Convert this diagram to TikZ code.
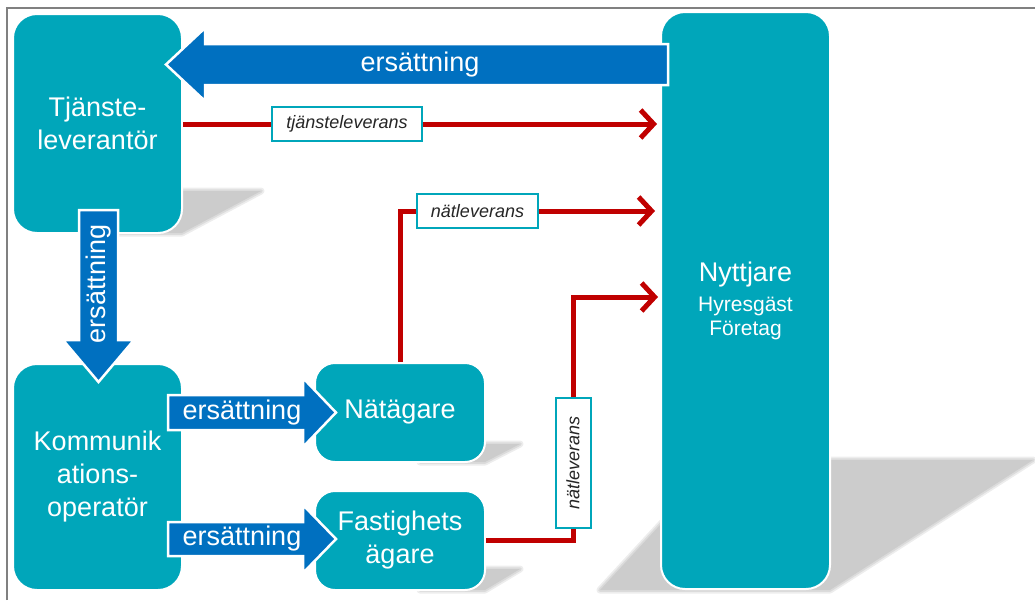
\documentclass[tikz,border=0pt]{standalone}
\usepackage{fontspec}
\setmainfont{Liberation Sans}
\usetikzlibrary{arrows.meta,calc,fadings}
\definecolor{teal1}{RGB}{0,166,186}
\definecolor{blue1}{RGB}{0,112,192}
\definecolor{red1}{RGB}{192,0,0}
\definecolor{frame1}{RGB}{128,128,128}
\definecolor{shad}{RGB}{204,204,204}
\tikzfading[name=band, top color=transparent!100, middle color=transparent!0, bottom color=transparent!100]
\newcommand\softshadow[1]{%
  \draw[shad!35!white, line width=7pt, line join=round] #1;
  \draw[shad!70!white, line width=3.5pt, line join=round] #1;
  \fill[shad] #1;}
\begin{document}
\begin{tikzpicture}[x=1pt,y=-1pt,
  box/.style={draw=white, line width=2pt, fill=teal1, rounded corners=24pt, inner sep=0pt,
    text=white, align=center, font=\fontsize{27}{33}\selectfont},
  smallbox/.style={box, rounded corners=20pt, minimum width=170pt, minimum height=99pt},
  barrow/.style={fill=blue1, draw=white, line width=2.5pt, line join=miter},
  atext/.style={text=white, font=\fontsize{27}{33}\selectfont, inner sep=0pt},
  rline/.style={draw=red1, line width=5pt, -{Straight Barb[length=13pt,width=28pt]}},
  lbl/.style={draw=teal1, line width=2pt, fill=white, font=\fontsize{18}{21}\selectfont\itshape,
    text=black!85, inner sep=0pt},
  sband/.style={fill=black, path fading=band}
]
\useasboundingbox (0,0) rectangle (1035,600);

% soft shadows
\softshadow{(600,590) -- (830,590) -- (1033,460) -- (720,460) -- cycle}
\softshadow{(110,233) -- (182,233) -- (261,191) -- (170,191) -- cycle}
\softshadow{(420,462) -- (485,462) -- (520,444) -- (460,444) -- cycle}
\softshadow{(420,590) -- (485,590) -- (520,569) -- (460,569) -- cycle}

% boxes
\node[box, minimum width=169pt, minimum height=219pt] (tj) at (97.5,123.5) {Tjänste-\\leverantör};
\node[box, minimum width=169pt, minimum height=226pt] (ko) at (97.5,477) {Kommunik\\ations-\\operatör};
\node[smallbox] (na) at (400,412.5) {Nätägare};
\node[smallbox] (fa) at (400,540.5) {Fastighets\\ägare};
\node[box, minimum width=169pt, minimum height=577pt] (ny) at (745.5,300.5)
  {Nyttjare\\[-3pt]{\fontsize{21}{24}\selectfont Hyresgäst}\\[-9pt]{\fontsize{21}{24}\selectfont Företag}};

% blurred shadows of arrows and lines
\fill[sband, fill opacity=0.28] (185,89) rectangle (690,107);
\fill[sband, fill opacity=0.08] (190,142) rectangle (660,153);
\fill[sband, fill opacity=0.10] (578,320) rectangle (660,333);
\fill[sband, fill opacity=0.22] (178,437) rectangle (355,453);
\fill[sband, fill opacity=0.22] (178,563) rectangle (355,579);

% red delivery lines
\coordinate (t1end) at (657,124);
\coordinate (n1end) at (655,211);
\coordinate (n2end) at (658,297);
\draw[rline] (tj.east |- t1end) -- (t1end);
\draw[rline] (na.north) |- (n1end);
\draw[rline] (fa.east) -- ++(87,0) |- (n2end);

\node[lbl, minimum width=150pt, minimum height=34pt] (l1) at (347,124) {tjänsteleverans};
\node[lbl, minimum width=121pt, minimum height=34pt] (l2) at (477.5,211) {nätleverans};
\node[lbl, minimum width=130pt, minimum height=35pt, rotate=90] (l3) at (573,463) {nätleverans};

% blue compensation arrows
\draw[barrow] (668,44) -- (205,44) -- (205,28) -- (166,64.5) -- (205,101) -- (205,85) -- (668,85) -- cycle;
\node[atext] (e1) at (420,64.5) {ersättning};

\draw[barrow] (79,210) -- (118,210) -- (118,340) -- (134,340) -- (98.5,382) -- (63,340) -- (79,340) -- cycle;
\node[atext, rotate=90] (e2) at (99,284) {ersättning};

\draw[barrow] (168,395) -- (303,395) -- (303,378) -- (336,412.5) -- (303,447) -- (303,430) -- (168,430) -- cycle;
\node[atext] (e3) at (242,412.5) {ersättning};

\draw[barrow] (168,522) -- (303,522) -- (303,505) -- (336,539) -- (303,573) -- (303,556) -- (168,556) -- cycle;
\node[atext] (e4) at (242,539) {ersättning};

% frame
\draw[frame1, line width=2pt] (7,600) -- (7,8) -- (1035,8);
\end{tikzpicture}
\end{document}
